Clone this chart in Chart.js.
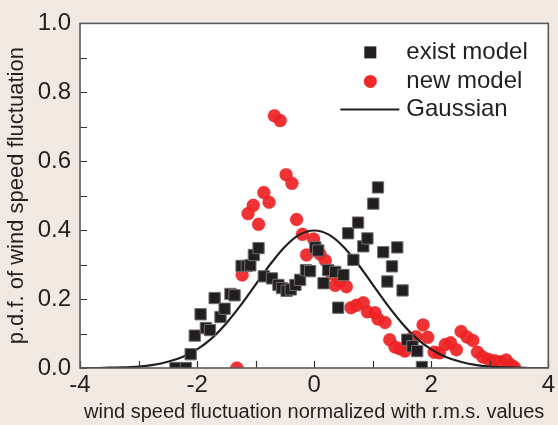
<!DOCTYPE html>
<html>
<head>
<meta charset="utf-8">
<script src="https://cdn.jsdelivr.net/npm/chart.js@4"></script>
<style>
  body { margin: 0; background: #f1e8e1; }
  canvas { display: block; }
</style>
</head>
<body>
<canvas id="pdfChart" width="558" height="425"></canvas>
<script>
// datos
const existX = [-2.37, -2.19, -2.11, -2.04, -1.94, -1.85, -1.78, -1.70, -1.60, -1.53, -1.43, -1.36, -1.24, -1.15, -1.09, -1.03, -0.95, -0.86, -0.72, -0.61, -0.55, -0.47, -0.40, -0.32, -0.24, -0.14, -0.07, 0.02, 0.07, 0.16, 0.24, 0.36, 0.50, 0.41, 0.58, 0.67, 0.75, 0.84, 0.91, 1.01, 1.09, 1.18, 1.25, 1.33, 1.42, 1.51, 1.59, 1.68, 1.76, 1.84]
const existY = [0.0, 0.0, 0.040, 0.094, 0.156, 0.116, 0.110, 0.203, 0.148, 0.172, 0.215, 0.211, 0.296, 0.296, 0.298, 0.328, 0.348, 0.266, 0.260, 0.241, 0.232, 0.224, 0.228, 0.241, 0.256, 0.284, 0.281, 0.350, 0.341, 0.246, 0.284, 0.279, 0.270, 0.175, 0.391, 0.314, 0.422, 0.353, 0.376, 0.477, 0.524, 0.336, 0.251, 0.295, 0.350, 0.225, 0.082, 0.063, 0.049, 0.003]

const newX = [-1.32, -1.23, -1.13, -1.04, -0.95, -0.86, -0.77, -0.68, -0.58, -0.48, -0.38, -0.30, -0.20, -0.13, -0.01, 0.10, 0.19, 0.30, 0.36, 0.44, 0.55, 0.63, 0.72, 0.84, 0.91, 1.04, 1.09, 1.21, 1.29, 1.38, 1.46, 1.55, 1.65, 1.74, 1.86, 1.94, 2.05, 2.14, 2.24, 2.33, 2.43, 2.51, 2.61, 2.71, 2.79, 2.88, 2.98, 3.08, 3.18, 3.28, 3.36, 3.42]
const newY = [0.0, 0.270, 0.448, 0.472, 0.417, 0.509, 0.481, 0.732, 0.718, 0.561, 0.536, 0.431, 0.388, 0.328, 0.374, 0.331, 0.312, 0.274, 0.240, 0.251, 0.236, 0.175, 0.182, 0.189, 0.163, 0.160, 0.142, 0.132, 0.082, 0.061, 0.056, 0.049, 0.085, 0.091, 0.125, 0.089, 0.046, 0.044, 0.068, 0.073, 0.053, 0.106, 0.090, 0.080, 0.046, 0.032, 0.025, 0.021, 0.018, 0.023, 0.009, 0.002]

const gaussX = [-4, -3.75, -3.5, -3.25, -3, -2.75, -2.5, -2.25, -2, -1.75, -1.5, -1.25, -1, -0.75, -0.5, -0.25, 0, 0.25, 0.5, 0.75, 1, 1.25, 1.5, 1.75, 2, 2.25, 2.5, 2.75, 3, 3.25, 3.5, 3.75, 4]
const gaussY = [0.000, 0.000, 0.001, 0.002, 0.004, 0.009, 0.018, 0.032, 0.054, 0.086, 0.130, 0.183, 0.242, 0.301, 0.352, 0.387, 0.399, 0.387, 0.352, 0.301, 0.242, 0.183, 0.130, 0.086, 0.054, 0.032, 0.018, 0.009, 0.004, 0.002, 0.001, 0.000, 0.000]

const seriesNames = ['exist model', 'new model', 'Gaussian']
const xTitle = 'wind speed fluctuation normalized with r.m.s. values'
const yTitle = 'p.d.f. of wind speed fluctuation'

const RED = '#ee2a2b'
const BLACK = '#231f20'
const FONT = 'Liberation Sans, Arial, sans-serif'

function toPoints(xs, ys) {
    let pts = []
    for (let i = 0; i < xs.length; i++) {
        pts.push({ x: xs[i], y: ys[i] })
    }
    return pts
}

// fondo, marco y ticks hacia adentro
const framePlugin = {
    id: 'frame',
    beforeDraw(chart) {
        const ctx = chart.ctx, a = chart.chartArea
        ctx.save()
        ctx.fillStyle = '#f1e8e1'
        ctx.fillRect(0, 0, chart.width, chart.height)
        ctx.fillStyle = '#ffffff'
        ctx.fillRect(a.left, a.top, a.right - a.left, a.bottom - a.top)
        ctx.restore()
    },
    afterDraw(chart) {
        const ctx = chart.ctx, a = chart.chartArea
        const xs = chart.scales.x, ys = chart.scales.y
        ctx.save()
        ctx.strokeStyle = '#333'
        ctx.lineWidth = 1.2
        ctx.beginPath()
        xs.ticks.forEach(t => {
            const px = Math.round(xs.getPixelForValue(t.value)) + 0.5
            ctx.moveTo(px, a.bottom)
            ctx.lineTo(px, a.bottom - 7)
        })
        ys.ticks.forEach(t => {
            const py = Math.round(ys.getPixelForValue(t.value)) + 0.5
            ctx.moveTo(a.left, py)
            ctx.lineTo(a.left + 7, py)
        })
        ctx.stroke()
        ctx.strokeStyle = '#5a5a5a'
        ctx.lineWidth = 1.6
        ctx.strokeRect(a.left, a.top, a.right - a.left, a.bottom - a.top)
        ctx.restore()

        // leyenda dentro del area
        const mx = a.right - 178, tx = a.right - 142
        const rows = [a.top + 29, a.top + 58, a.top + 86]
        ctx.save()
        ctx.fillStyle = BLACK
        ctx.fillRect(mx - 6, rows[0] - 6, 12, 12)
        ctx.fillStyle = RED
        ctx.beginPath()
        ctx.arc(mx, rows[1], 6.5, 0, Math.PI * 2)
        ctx.fill()
        ctx.strokeStyle = BLACK
        ctx.lineWidth = 2
        ctx.beginPath()
        ctx.moveTo(mx - 30, rows[2])
        ctx.lineTo(mx + 29, rows[2])
        ctx.stroke()
        ctx.fillStyle = '#231f20'
        ctx.font = '24px ' + FONT
        ctx.textBaseline = 'middle'
        ctx.textAlign = 'left'
        for (let i = 0; i < seriesNames.length; i++) {
            ctx.fillText(seriesNames[i], tx, rows[i])
        }
        ctx.restore()
    }
}

new Chart(document.getElementById('pdfChart'), {
    type: 'scatter',
    data: {
        datasets: [{
            label: seriesNames[0],
            data: toPoints(existX, existY),
            pointStyle: 'rect',
            pointRadius: 8,
            backgroundColor: BLACK,
            borderColor: '#707070',
            borderWidth: 1,
            order: 0
        }, {
            label: seriesNames[2],
            data: toPoints(gaussX, gaussY),
            showLine: true,
            pointRadius: 0,
            borderColor: BLACK,
            borderWidth: 2.2,
            cubicInterpolationMode: 'monotone',
            order: 1
        }, {
            label: seriesNames[1],
            data: toPoints(newX, newY),
            pointStyle: 'circle',
            pointRadius: 6.5,
            backgroundColor: 'rgba(238,34,36,0.92)',
            borderColor: 'rgba(238,34,36,0.6)',
            borderWidth: 0.5,
            order: 2
        }]
    },
    options: {
        responsive: false,
        animation: false,
        layout: { padding: { top: 17, right: 6, left: 4, bottom: 0 } },
        plugins: {
            legend: { display: false },
            tooltip: { enabled: false }
        },
        scales: {
            x: {
                min: -4, max: 4,
                grid: { display: false, drawTicks: false },
                border: { display: false },
                ticks: {
                    stepSize: 1,
                    padding: 3,
                    color: '#231f20',
                    maxRotation: 0,
                    autoSkip: false,
                    font: { family: FONT, size: 24 },
                    callback: v => (Math.round(v) % 2 === 0 ? String(Math.round(v)) : '')
                },
                title: {
                    display: true,
                    text: xTitle,
                    color: '#231f20',
                    font: { family: FONT, size: 20 },
                    padding: { top: 0, bottom: 1 }
                },
                afterFit: s => { s.height = 57 }
            },
            y: {
                min: 0, max: 1,
                grid: { display: false, drawTicks: false },
                border: { display: false },
                ticks: {
                    stepSize: 0.1,
                    padding: 9,
                    color: '#231f20',
                    autoSkip: false,
                    font: { family: FONT, size: 24 },
                    callback: v => (Math.round(v * 10) % 2 === 0 ? v.toFixed(1) : '')
                },
                title: {
                    display: true,
                    text: yTitle,
                    color: '#231f20',
                    font: { family: FONT, size: 22 },
                    padding: 0
                },
                afterFit: s => { s.width = 76 }
            }
        }
    },
    plugins: [framePlugin]
})
</script>
</body>
</html>
